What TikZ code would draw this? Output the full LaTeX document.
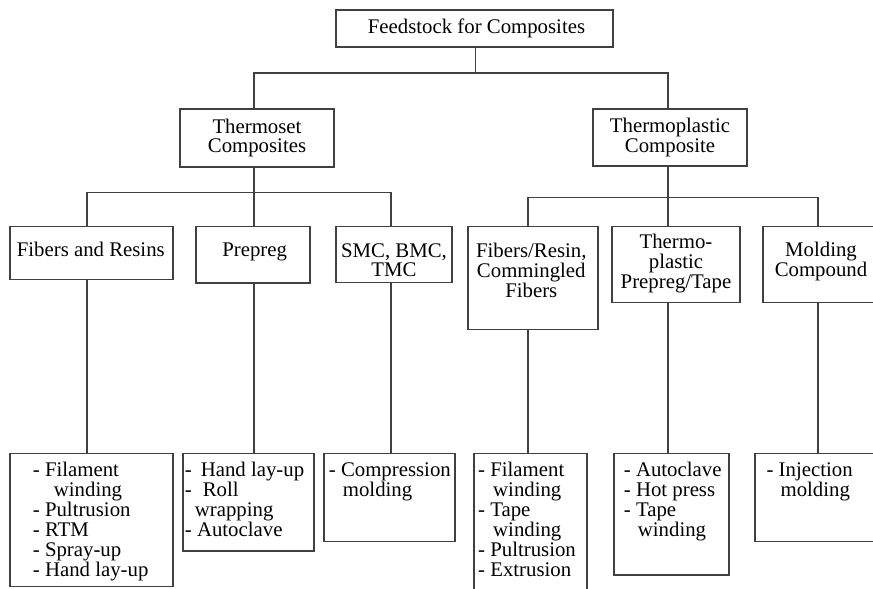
\documentclass[tikz,border=0pt]{standalone}
\usepackage{fontspec}
\setmainfont{Liberation Serif}
\usetikzlibrary{fit,calc}
% fixes the height of the first line of a label
\newcommand\lnstrut{\rule{0pt}{7.2pt}}
\begin{document}
\begin{tikzpicture}[x=0.5pt,y=-0.5pt,
  every node/.style={font=\fontsize{10.4pt}{9.9pt}\selectfont, inner sep=0pt, text=black},
  box/.style={draw=black!75, line width=0.6pt, rectangle, inner sep=0pt},
  link/.style={draw=black!75, line width=0.6pt},
  ctr/.style={align=center, anchor=center},
  lbl/.style={align=center, anchor=north},
  lst/.style={align=left, anchor=north west, font=\fontsize{10.4pt}{10pt}\selectfont}]
\useasboundingbox (0,0) rectangle (873,589);
\clip (0,0) rectangle (873,589);

% level 0 and level 1
\node[box, fit={(336,10) (613,47)}] (root) {};
\node[box, fit={(180,109) (334,167)}] (ts) {};
\node[box, fit={(593,109) (747,166)}] (tp) {};
\node[ctr] (roott) at ($(root.center)+(2,0)$) {Feedstock for Composites};
\node[ctr] (tst) at (ts.center) {Thermoset\\Composites};
\node[ctr] (tpt0) at (tp.center) {Thermoplastic\\Composite};

% level 2 boxes
\node[box, fit={(10,226.7) (173,279.3)}] (fr) {};
\node[box, fit={(196,226.7) (310,283)}] (pp) {};
\node[box, fit={(336,226.7) (452,282.7)}] (smc) {};
\node[box, fit={(468,226.7) (598,329.3)}] (frc) {};
\node[box, fit={(612,226.7) (740,302.3)}] (tpt) {};
\node[box, fit={(763,226.7) (880,302.3)}] (mc) {};

\node[lbl] (frt) at (90.8,241.6) {\lnstrut Fibers and Resins};
\node[lbl] (ppt) at (254.7,241.6) {\lnstrut Prepreg};
\node[lbl] (smct) at (394,242.3) {\lnstrut SMC, BMC,\\TMC};
\node[lbl] (frct) at (531.3,242.6) {\lnstrut Fibers/Resin,\\Commingled\\Fibers};
\node[lbl] (tptt) at (676,233.6) {\lnstrut Thermo-\\plastic\\Prepreg/Tape};
\node[lbl] (mct) at (821,241.6) {\lnstrut Molding\\Compound};

% level 3 boxes
\node[box, fit={(10,453.3) (173,586.7)}] (l1) {};
\node[box, fit={(183,453.3) (314,551)}] (l2) {};
\node[box, fit={(324,453.3) (455,541.7)}] (l3) {};
\node[box, fit={(474,453.3) (587,596)}] (l4) {};
\node[box, fit={(614,453.3) (729,575)}] (l5) {};
\node[box, fit={(755,453.3) (880,541.7)}] (l6) {};

\node[lst] (l1t) at (32.5,461.6) {\lnstrut- Filament\\\hspace*{10.5pt}winding\\- Pultrusion\\- RTM\\- Spray-up\\- Hand lay-up};
\node[lst] (l2t) at (184.5,461.6) {\lnstrut-\hspace{4.5pt}Hand lay-up\\-\hspace{5.5pt}Roll\\\hspace*{5pt}wrapping\\- Autoclave};
\node[lst] (l3t) at (328.5,461.6) {\lnstrut- Compression\\\hspace*{7pt}molding};
\node[lst] (l4t) at (477.8,461.6) {\lnstrut- Filament\\\hspace*{7.5pt}winding\\- Tape\\\hspace*{7.5pt}winding\\- Pultrusion\\- Extrusion};
\node[lst] (l5t) at (623.5,461.6) {\lnstrut- Autoclave\\- Hot press\\- Tape\\\hspace*{7pt}winding};
\node[lst] (l6t) at (766.2,461.6) {\lnstrut- Injection\\\hspace*{7pt}molding};

% bus points
\coordinate (rootbus) at (475.7,73);
\coordinate (busL) at (254,73);
\coordinate (busR) at (668,73);
\coordinate (b1L) at (87,192.3);
\coordinate (b1R) at (391,192.3);
\coordinate (b2L) at (528,197.5);
\coordinate (b2R) at (818,197.5);

% connectors
\draw[link] (root.south -| rootbus) -- (rootbus);
\draw[link] (ts.north -| busL) |- (busR) -- (tp.north -| busR);

\draw[link] (ts.south -| busL) -- (pp.north -| busL);
\draw[link] (fr.north -| b1L) |- (b1R) -- (smc.north -| b1R);

\draw[link] (tp.south -| busR) -- (tpt.north -| busR);
\draw[link] (frc.north -| b2L) |- (b2R) -- (mc.north -| b2R);

\draw[link] (fr.south -| b1L) -- (l1.north -| b1L);
\draw[link] (pp.south -| busL) -- (l2.north -| busL);
\draw[link] (smc.south -| b1R) -- (l3.north -| b1R);
\draw[link] (frc.south -| b2L) -- (l4.north -| b2L);
\draw[link] (tpt.south -| busR) -- (l5.north -| busR);
\draw[link] (mc.south -| b2R) -- (l6.north -| b2R);
\end{tikzpicture}
\end{document}
